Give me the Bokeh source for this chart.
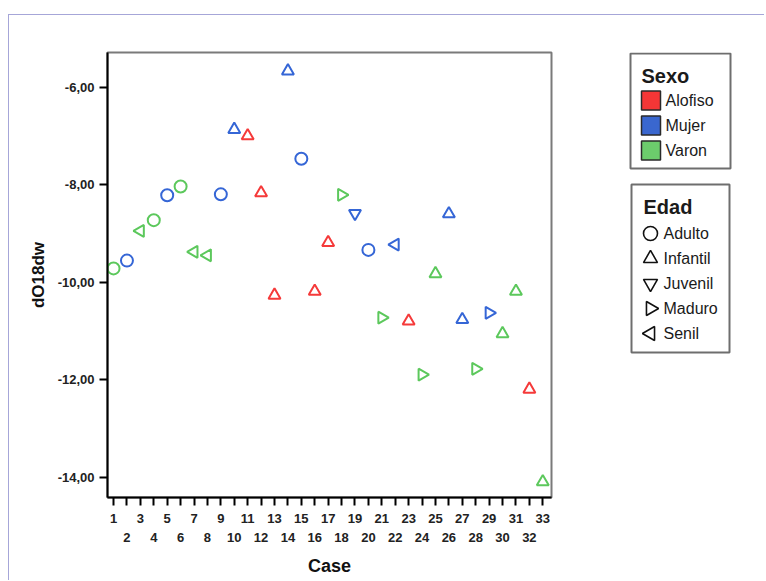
import math
from bokeh.plotting import figure
from bokeh.layouts import row
from bokeh.models import Range1d, LinearAxis, FixedTicker, ColumnDataSource
from bokeh.core.properties import value
from bokeh.embed import file_html
from bokeh.resources import INLINE

# ---- data ----
cases = list(range(1, 34))
dO18dw = [-9.72, -9.56, -8.95, -8.73, -8.22, -8.04, -9.38, -9.45, -8.20, -6.87,
          -7.00, -8.17, -10.27, -5.67, -7.47, -10.19, -9.19, -8.21, -8.59, -9.34,
          -10.73, -9.23, -10.80, -11.90, -9.83, -8.60, -10.77, -11.78, -10.63, -11.06,
          -10.19, -12.20, -14.10]
sexo = ["Varon", "Mujer", "Varon", "Varon", "Mujer", "Varon", "Varon", "Varon", "Mujer", "Mujer",
        "Alofiso", "Alofiso", "Alofiso", "Mujer", "Mujer", "Alofiso", "Alofiso", "Varon", "Mujer", "Mujer",
        "Varon", "Mujer", "Alofiso", "Varon", "Varon", "Mujer", "Mujer", "Varon", "Mujer", "Varon",
        "Varon", "Alofiso", "Varon"]
edad = ["Adulto", "Adulto", "Senil", "Adulto", "Adulto", "Adulto", "Senil", "Senil", "Adulto", "Infantil",
        "Infantil", "Infantil", "Infantil", "Infantil", "Adulto", "Infantil", "Infantil", "Maduro", "Juvenil", "Adulto",
        "Maduro", "Senil", "Infantil", "Maduro", "Infantil", "Infantil", "Infantil", "Maduro", "Maduro", "Infantil",
        "Infantil", "Infantil", "Infantil"]
sexo_levels = ["Alofiso", "Mujer", "Varon"]
edad_levels = ["Adulto", "Infantil", "Juvenil", "Maduro", "Senil"]
y_ticks = [-14, -12, -10, -8, -6]
y_tick_labels = ["-14,00", "-12,00", "-10,00", "-8,00", "-6,00"]

# ---- styles ----
sexo_colors = {"Alofiso": "#f53a3a", "Mujer": "#3566d6", "Varon": "#5cc85c"}
sexo_fill = {"Alofiso": "#f43636", "Mujer": "#3a67cf", "Varon": "#6ccc6c"}
edad_marker = {"Adulto": "circle", "Infantil": "triangle", "Juvenil": "inverted_triangle",
               "Maduro": "triangle", "Senil": "triangle"}
edad_angle = {"Adulto": 0.0, "Infantil": 0.0, "Juvenil": 0.0,
              "Maduro": -math.pi / 2, "Senil": math.pi / 2}
FONT = "Liberation Sans"
H = 565
TOP, FRAME_H = 37, 445
BOTTOM = H - TOP - FRAME_H

src = ColumnDataSource(dict(
    x=cases, y=dO18dw,
    color=[sexo_colors[s] for s in sexo],
    marker=[edad_marker[e] for e in edad],
    angle=[edad_angle[e] for e in edad],
))

p = figure(width=591, height=H, output_backend="svg", toolbar_location=None,
           x_range=Range1d(0.55, 33.65), y_range=Range1d(-14.42, -5.29),
           min_border_left=98, min_border_right=49, min_border_top=TOP, min_border_bottom=BOTTOM,
           x_axis_type=None, y_axis_type=None)
p.grid.visible = False
p.outline_line_color = "#7a7a7a"
p.outline_line_width = 2
p.background_fill_color = "white"
p.border_fill_color = "white"

# y axis
yax = LinearAxis(ticker=FixedTicker(ticks=y_ticks),
                 major_label_overrides={t: l for t, l in zip(y_ticks, y_tick_labels)})
yax.axis_label = "dO18dw"
yax.axis_label_text_font = FONT
yax.axis_label_text_font_style = "bold"
yax.axis_label_text_font_size = "17px"
yax.axis_label_text_color = "#111111"
yax.axis_label_standoff = 7
yax.major_label_text_font = FONT
yax.major_label_text_font_size = "13px"
yax.major_label_text_font_style = "bold"
yax.major_label_text_color = "#222222"
yax.major_label_standoff = 5
yax.major_tick_out = 8
yax.major_tick_in = 0
yax.major_tick_line_width = 2
yax.minor_tick_line_color = None
yax.axis_line_width = 2
p.add_layout(yax, "left")

# x axis: odd labels on the first row, even labels on the second row
even = [c for c in cases if c % 2 == 0]
xax1 = LinearAxis(ticker=FixedTicker(ticks=cases),
                  major_label_overrides={c: (str(c) if c % 2 == 1 else "") for c in cases})
xax1.major_label_text_font = FONT
xax1.major_label_text_font_size = "13px"
xax1.major_label_text_font_style = "bold"
xax1.major_label_text_color = "#222222"
xax1.major_label_standoff = 8
xax1.major_tick_out = 8
xax1.major_tick_in = 0
xax1.major_tick_line_width = 2
xax1.minor_tick_line_color = None
xax1.axis_line_width = 2
p.add_layout(xax1, "below")

xax2 = LinearAxis(ticker=FixedTicker(ticks=even),
                  major_label_overrides={c: str(c) for c in even})
xax2.axis_label = "Case"
xax2.axis_label_text_font = FONT
xax2.axis_label_text_font_style = "bold"
xax2.axis_label_text_font_size = "18px"
xax2.axis_label_text_color = "#111111"
xax2.axis_label_standoff = 11
xax2.major_label_text_font = FONT
xax2.major_label_text_font_size = "13px"
xax2.major_label_text_font_style = "bold"
xax2.major_label_text_color = "#222222"
xax2.major_label_standoff = 7
xax2.major_tick_out = 0
xax2.major_tick_in = 0
xax2.major_tick_line_color = None
xax2.minor_tick_line_color = None
xax2.axis_line_color = None
p.add_layout(xax2, "below")

# points
p.scatter("x", "y", source=src, marker="marker", angle="angle", size=12,
          line_color="color", fill_color=None, line_width=2)

# ---- legend panel: page-pixel coordinates (x from 600, y from frame top 52 to bottom 497) ----
q = figure(width=164, height=H, output_backend="svg", toolbar_location=None,
           x_range=Range1d(600, 764), y_range=Range1d(497, 52),
           min_border_left=0, min_border_right=0, min_border_top=TOP, min_border_bottom=BOTTOM,
           x_axis_type=None, y_axis_type=None)
q.grid.visible = False
q.outline_line_color = None
q.border_fill_color = "white"
q.background_fill_color = "white"

BOX = "#6e6e6e"
TXT = "#1a1a1a"
STEP = 25

# Sexo legend
q.quad(left=[630], right=[730], top=[53], bottom=[168], fill_color=None,
       line_color=BOX, line_width=2)
q.text(x=[641], y=[75], text=["Sexo"], text_font=value(FONT), text_font_style="bold",
       text_font_size="20px", text_baseline="middle", text_color=TXT)
s_y = [100 + STEP * i for i in range(len(sexo_levels))]
q.quad(left=[641] * len(sexo_levels), right=[660] * len(sexo_levels),
       top=[y - 9.5 for y in s_y], bottom=[y + 9.5 for y in s_y],
       fill_color=[sexo_fill[s] for s in sexo_levels], line_color="#2a2a2a", line_width=1.5)
q.text(x=[665] * len(sexo_levels), y=s_y, text=sexo_levels, text_font=value(FONT),
       text_font_size="16px", text_baseline="middle", text_color=TXT)

# Edad legend
q.quad(left=[631], right=[729], top=[184], bottom=[352], fill_color=None,
       line_color=BOX, line_width=2)
q.text(x=[643], y=[206], text=["Edad"], text_font=value(FONT), text_font_style="bold",
       text_font_size="20px", text_baseline="middle", text_color=TXT)
e_y = [233 + STEP * i for i in range(len(edad_levels))]
q.scatter(x=[650] * len(edad_levels), y=e_y,
          marker=[edad_marker[e] for e in edad_levels],
          angle=[edad_angle[e] for e in edad_levels],
          size=14, line_color="#111111", fill_color=None, line_width=1.6)
q.text(x=[663] * len(edad_levels), y=e_y, text=edad_levels, text_font=value(FONT),
       text_font_size="16px", text_baseline="middle", text_color=TXT)

layout = row(p, q, spacing=0)
layout.styles = {"border-top": "1px solid #a6a6d8", "border-left": "1px solid #a6a6d8",
                 "margin-top": "14px", "margin-left": "8px"}

open("out.html", "w").write(file_html(layout, INLINE))
